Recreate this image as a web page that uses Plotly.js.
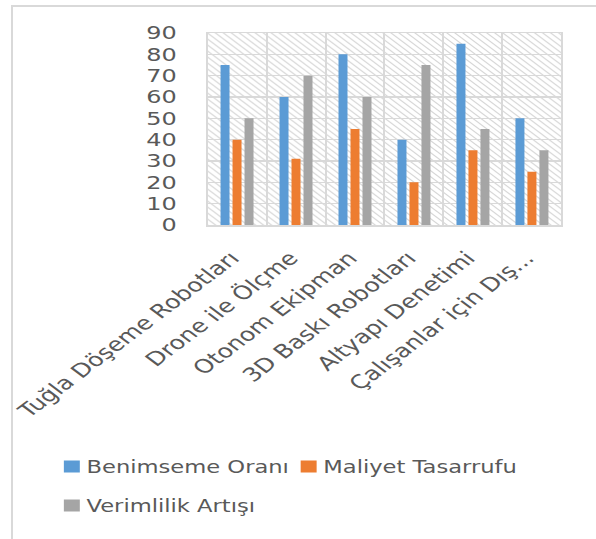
<!DOCTYPE html>
<html>
<head>
<meta charset="utf-8">
<script src="https://cdn.plot.ly/plotly-3.0.1.min.js"></script>
<style>
  html, body { margin: 0; padding: 0; background: #ffffff; overflow: hidden; }
  #wrap { position: relative; width: 596px; height: 539px; overflow: hidden; }
  #frame { position: absolute; left: 11px; top: 5px; width: 640px; height: 640px;
           border-left: 2px solid #d9d9d9; border-top: 2px solid #d9d9d9; }
  /* the chart is laid out narrow and widened horizontally */
  #chart { position: absolute; left: 0; top: 0; width: 448px; height: 539px;
           transform: scaleX(1.3304); transform-origin: 0 0; }
  /* legend swatches sit closer to their labels */
  #chart .legendsymbols { transform: translate(9px, 0px); }
</style>
</head>
<body>
<div id="wrap">
  <div id="frame"></div>
  <div id="chart"></div>
</div>
<script>
// Construction technologies and their scores
const categories = [
  "Tuğla Döşeme Robotları",
  "Drone ile Ölçme",
  "Otonom Ekipman",
  "3D Baskı Robotları",
  "Altyapı Denetimi",
  "Çalışanlar için Dış..."
];
const adoptionRate = [75, 60, 80, 40, 85, 50];   // Benimseme Oranı
const costSavings  = [40, 31, 45, 20, 35, 25];   // Maliyet Tasarrufu
const efficiency   = [50, 70, 60, 75, 45, 35];   // Verimlilik Artışı

const seriesNames = ["Benimseme Oranı", "Maliyet Tasarrufu", "Verimlilik Artışı"];
const seriesColors = ["#5b9bd5", "#ed7d31", "#a5a5a5"];
const yTicks = [0, 10, 20, 30, 40, 50, 60, 70, 80, 90];

// Plot geometry in layout pixels (before the horizontal widening)
const W = 448, H = 539;
const M = { l: 156, r: 26, t: 33, b: 314 };
const PW = W - M.l - M.r, PH = H - M.t - M.b;
const px = v => (v - M.l) / PW;          // pixel x -> paper x
const py = v => (H - M.b - v) / PH;      // pixel y -> paper y

// Diagonal hatch fill for the plot background
const hatch =
  '<svg xmlns="http://www.w3.org/2000/svg" width="' + PW + '" height="' + PH + '" viewBox="0 0 ' + PW + ' ' + PH + '" preserveAspectRatio="none">' +
  '<defs><pattern id="h" width="6" height="6" patternUnits="userSpaceOnUse">' +
  '<path d="M-1,-1 L7,7 M-1,5 L1,7 M5,-1 L7,1" stroke="#d6d6d6" stroke-width="1" fill="none"/>' +
  '</pattern></defs><rect width="100%" height="100%" fill="#ffffff"/><rect width="100%" height="100%" fill="url(#h)"/></svg>';
const hatchURI = 'data:image/svg+xml;charset=utf-8,' + encodeURIComponent(hatch);

const values = [adoptionRate, costSavings, efficiency];
const legends = ["legend", "legend2", "legend3"];
const traces = values.map((vals, i) => ({
  type: "bar",
  x: categories,
  y: vals,
  name: seriesNames[i],
  marker: { color: seriesColors[i] },
  legend: legends[i],
  hoverinfo: "x+y+name"
}));

const textColor = "#595959";
const gridColor = "#d9d9d9";
const legendFont = { family: "DejaVu Sans", size: 17, color: textColor };

const layout = {
  width: W,
  height: H,
  margin: M,
  paper_bgcolor: "rgba(0,0,0,0)",
  plot_bgcolor: "rgba(0,0,0,0)",
  font: { family: "DejaVu Sans", color: textColor },
  barmode: "group",
  bargap: 0.39,
  bargroupgap: 0.25,
  showlegend: true,
  xaxis: {
    type: "category",
    tickson: "boundaries",
    tickangle: -45,
    ticks: "",
    showgrid: true,
    gridcolor: gridColor,
    gridwidth: 1.5,
    showline: true,
    mirror: true,
    linecolor: gridColor,
    linewidth: 1.5,
    automargin: false,
    ticklabelstandoff: 13,
    ticklabelshift: -4,
    tickfont: { family: "DejaVu Sans", size: 19, color: textColor }
  },
  yaxis: {
    range: [0, 90],
    tickvals: yTicks,
    ticktext: yTicks.map(String),
    ticks: "",
    showgrid: true,
    gridcolor: gridColor,
    gridwidth: 1.5,
    zeroline: false,
    showline: true,
    mirror: true,
    linecolor: gridColor,
    linewidth: 1.5,
    automargin: false,
    ticklabelstandoff: 18,
    tickfont: { family: "DejaVu Sans", size: 18, color: textColor }
  },
  legend: {
    orientation: "h", x: px(25), xanchor: "left", y: py(467), yanchor: "middle",
    font: legendFont, bgcolor: "rgba(0,0,0,0)"
  },
  legend2: {
    orientation: "h", x: px(203), xanchor: "left", y: py(467), yanchor: "middle",
    font: legendFont, bgcolor: "rgba(0,0,0,0)"
  },
  legend3: {
    orientation: "h", x: px(25), xanchor: "left", y: py(506), yanchor: "middle",
    font: legendFont, bgcolor: "rgba(0,0,0,0)"
  },
  images: [{
    source: hatchURI,
    xref: "paper", yref: "paper",
    x: 0, y: 1, sizex: 1, sizey: 1,
    xanchor: "left", yanchor: "top",
    sizing: "stretch",
    layer: "below"
  }]
};

Plotly.newPlot("chart", traces, layout, { displayModeBar: false, staticPlot: true });
</script>
</body>
</html>
